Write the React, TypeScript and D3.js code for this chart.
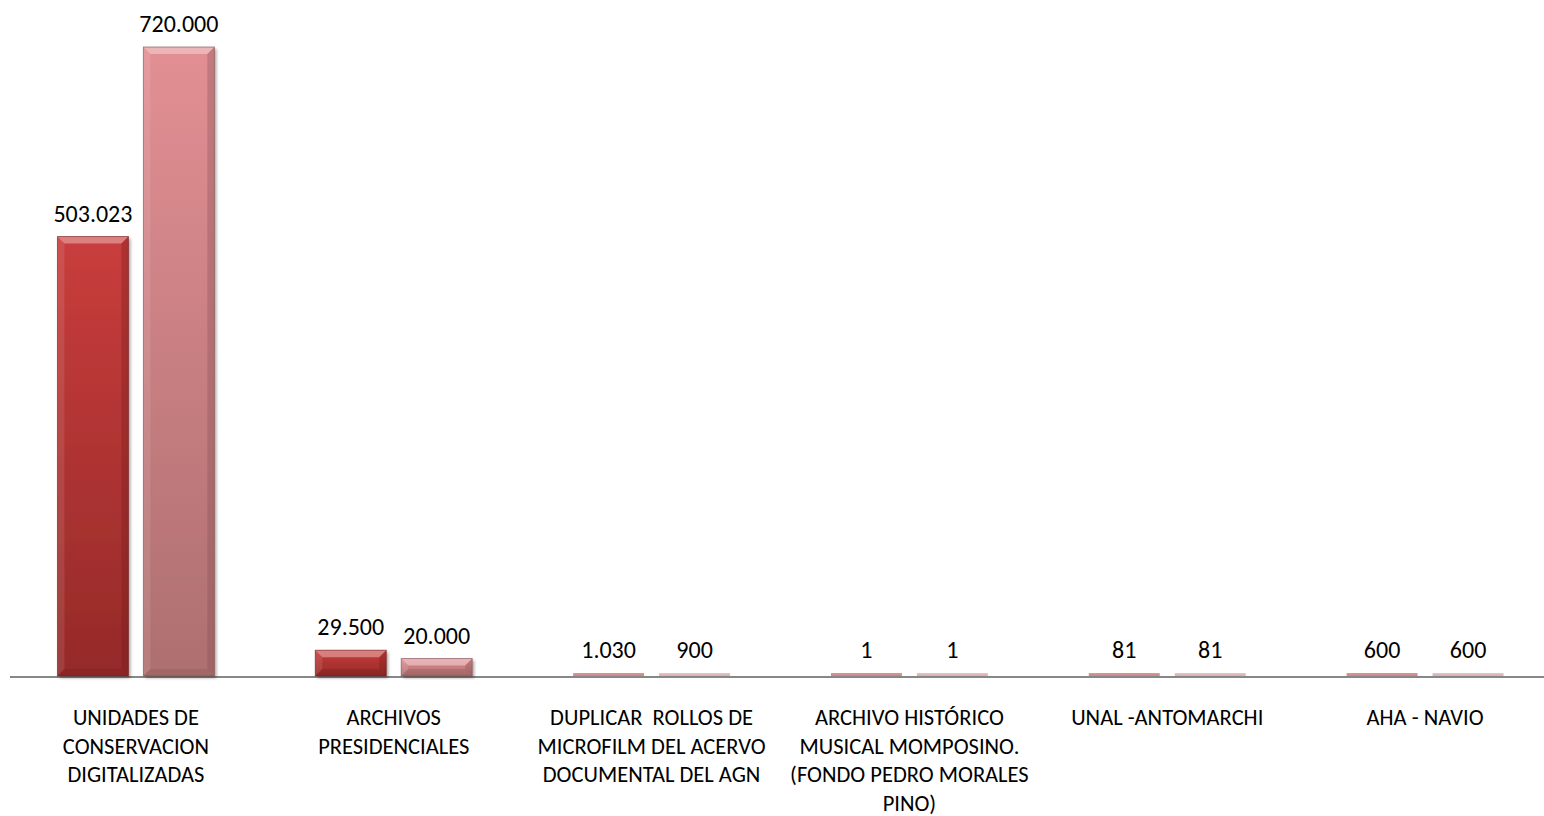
import React from "react";
import * as d3 from "d3";

// categories (line-wrapped as in the picture)
const categories: string[][] = [
  ["UNIDADES DE", "CONSERVACION", "DIGITALIZADAS"],
  ["ARCHIVOS", "PRESIDENCIALES"],
  ["DUPLICAR  ROLLOS DE", "MICROFILM DEL ACERVO", "DOCUMENTAL DEL AGN"],
  ["ARCHIVO HISTÓRICO", "MUSICAL MOMPOSINO.", "(FONDO PEDRO MORALES", "PINO)"],
  ["UNAL -ANTOMARCHI"],
  ["AHA - NAVIO"],
];
const seriesA: number[] = [503023, 29500, 1030, 1, 81, 600];
const seriesB: number[] = [720000, 20000, 900, 1, 81, 600];
const seriesNames = ["A", "B"];

const W = 1544;
const H = 816;
const FONT = "Carlito, Lato, 'Open Sans', sans-serif";

const fmt = d3.formatLocale({ decimal: ",", thousands: ".", grouping: [3], currency: ["$", ""] }).format(",d");

export default function App() {
  const baseY = 677;
  const topY = 48;
  const keys = categories.map((c, i) => "c" + i);

  const x0 = d3.scaleBand<string>().domain(keys).range([7, 1554]).paddingInner(0).paddingOuter(0);
  const x1 = d3
    .scaleBand<string>()
    .domain(seriesNames)
    .range([0, x0.bandwidth()])
    .paddingInner(0.1744)
    .paddingOuter(0.587);
  const y = d3.scaleLinear().domain([0, 720000]).range([baseY, topY]);

  const colors: Record<string, [string, string, string]> = {
    A: ["#c93d3c", "#952a29", "#6e1a1a"],
    B: ["#e28f93", "#ae6f70", "#7e4a4b"],
  };

  const bars: { key: string; s: string; v: number }[] = [];
  keys.forEach((k, i) => {
    bars.push({ key: k, s: "A", v: seriesA[i] });
    bars.push({ key: k, s: "B", v: seriesB[i] });
  });

  return (
    <svg width={W} height={H} style={{ display: "block", position: "absolute", left: 0, top: 0, background: "#fff" }}>
      <defs>
        {seriesNames.map((s) => (
          <linearGradient key={s} id={"g" + s} x1="0" y1="0" x2="0" y2="1">
            <stop offset="0" stopColor={colors[s][0]} />
            <stop offset="1" stopColor={colors[s][1]} />
          </linearGradient>
        ))}
        <filter id="sh" x="-10%" y="-10%" width="130%" height="130%">
          <feDropShadow dx="2" dy="2" stdDeviation="1.5" floodColor="#000" floodOpacity="0.35" />
        </filter>
      </defs>

      <line x1={10} x2={W} y1={baseY} y2={baseY} stroke="#878787" strokeWidth={2} />

      {bars.map((b, i) => {
        const bx = (x0(b.key) as number) + (x1(b.s) as number);
        const bw = x1.bandwidth();
        const h = Math.max(baseY - y(b.v), 3);
        const by = baseY - 1 - h;
        const bev = Math.min(7, h / 2);
        const c = colors[b.s];
        return (
          <g key={i}>
            <rect x={bx} y={by} width={bw} height={h} fill={`url(#g${b.s})`} filter={h > 6 ? "url(#sh)" : undefined}
              opacity={h > 6 ? 1 : 0.55} />
            {h > 6 && (
              <g>
                <polygon points={`${bx},${by} ${bx + bw},${by} ${bx + bw - bev},${by + bev} ${bx + bev},${by + bev}`}
                  fill="#fff" opacity={0.35} />
                <polygon points={`${bx},${by} ${bx + bev},${by + bev} ${bx + bev},${by + h - bev} ${bx},${by + h}`}
                  fill="#fff" opacity={0.1} />
                <polygon points={`${bx + bw},${by} ${bx + bw - bev},${by + bev} ${bx + bw - bev},${by + h - bev} ${bx + bw},${by + h}`}
                  fill={c[2]} opacity={0.3} />
                <polygon points={`${bx},${by + h} ${bx + bev},${by + h - bev} ${bx + bw - bev},${by + h - bev} ${bx + bw},${by + h}`}
                  fill={c[2]} opacity={0.25} />
                <rect x={bx} y={by} width={bw} height={h} fill="none" stroke={c[2]} strokeWidth={1} opacity={0.6} />
              </g>
            )}
            <text x={bx + bw / 2} y={baseY - h - 16} textAnchor="middle" fontFamily={FONT} fontSize={24} fill="#000">
              {fmt(b.v)}
            </text>
          </g>
        );
      })}

      {categories.map((lines, i) => {
        const cx = (x0(keys[i]) as number) + x0.bandwidth() / 2;
        return (
          <text key={i} textAnchor="middle" fontFamily={FONT} fontSize={22.5} fill="#000" style={{ whiteSpace: "pre" }}>
            {lines.map((l, j) => (
              <tspan key={j} x={cx} y={725 + j * 28.5}>
                {l}
              </tspan>
            ))}
          </text>
        );
      })}
    </svg>
  );
}
